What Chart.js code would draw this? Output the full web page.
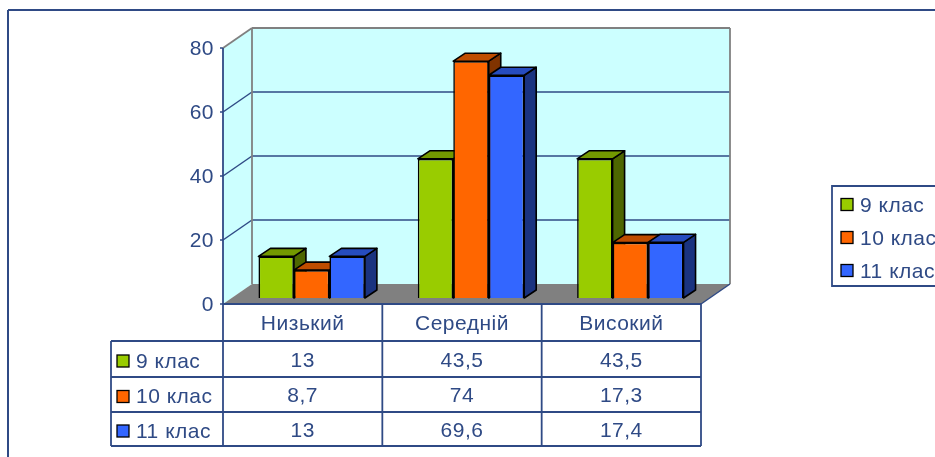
<!DOCTYPE html>
<html>
<head>
<meta charset="utf-8">
<style>
    html, body { margin: 0; padding: 0; background: #fff; overflow: hidden; }
    canvas { display: block; }
</style>
<script src="https://cdn.jsdelivr.net/npm/chart.js@4/dist/chart.umd.min.js"></script>
</head>
<body>
<canvas id="chart" width="935" height="457"></canvas>
<script>
const categories = ["Низький", "Середній", "Високий"];
const seriesNames = ["9 клас", "10 клас", "11 клас"];
const grade9 = [13, 43.5, 43.5];
const grade10 = [8.7, 74, 17.3];
const grade11 = [13, 69.6, 17.4];
const grade9Text = ["13", "43,5", "43,5"];
const grade10Text = ["8,7", "74", "17,3"];
const grade11Text = ["13", "69,6", "17,4"];
const yTicks = [0, 20, 40, 60, 80];

const ink = "#2F4A85";
const fronts = ["#99CC00", "#FF6600", "#3366FF"];
const tops = ["#739900", "#BF4D00", "#264CBF"];
const sides = ["#4D6600", "#803300", "#1A3380"];

// offset of the bars' plane from the front of the floor, and depth of walls / bars
const planeDx = 9, planeDy = 6;
const wallDx = 29, wallDy = 20;
const barDx = 12, barDy = 8;

function poly(ctx, pts, fill, stroke, lw) {
    ctx.beginPath();
    pts.forEach((p, i) => i ? ctx.lineTo(p[0], p[1]) : ctx.moveTo(p[0], p[1]));
    ctx.closePath();
    if (fill) { ctx.fillStyle = fill; ctx.fill(); }
    if (stroke) { ctx.strokeStyle = stroke; ctx.lineWidth = lw; ctx.stroke(); }
}

function line(ctx, x1, y1, x2, y2, color, lw) {
    ctx.beginPath();
    ctx.moveTo(x1, y1);
    ctx.lineTo(x2, y2);
    ctx.strokeStyle = color;
    ctx.lineWidth = lw;
    ctx.stroke();
}

function key(ctx, x, y, color) {
    ctx.fillStyle = color;
    ctx.fillRect(x, y, 12, 12);
    ctx.strokeStyle = "#000";
    ctx.lineWidth = 1.3;
    ctx.strokeRect(x, y, 12, 12);
}

const wallsPlugin = {
    id: "walls",
    // the reference text runs wider than Liberation Sans, so open it up a little
    beforeDraw(chart) {
        chart.ctx.letterSpacing = "0.5px";
    },
    // walls, floor, gridlines and the outer frame
    beforeDatasetsDraw(chart) {
        const ctx = chart.ctx, y = chart.scales.y, x = chart.scales.x;
        const left = x.left - planeDx, right = x.right - planeDx;
        const y0 = y.getPixelForValue(0) + planeDy, yTop = y.getPixelForValue(80) + planeDy;
        ctx.save();
        line(ctx, 8, 10, 935, 10, ink, 2);
        line(ctx, 8, 10, 8, 457, ink, 2);
        poly(ctx, [[left + wallDx, yTop - wallDy], [right + wallDx, yTop - wallDy], [right + wallDx, y0 - wallDy], [left + wallDx, y0 - wallDy]], "#CCFFFF");
        poly(ctx, [[left, yTop], [left + wallDx, yTop - wallDy], [left + wallDx, y0 - wallDy], [left, y0]], "#CCFFFF");
        poly(ctx, [[left, y0], [left + wallDx, y0 - wallDy], [right + wallDx, y0 - wallDy], [right, y0]], "#808080");
        yTicks.forEach(v => {
            const py = y.getPixelForValue(v) + planeDy;
            if (v > 0 && v < 80) {
                line(ctx, left, py, left + wallDx, py - wallDy, ink, 1.5);
                line(ctx, left + wallDx, py - wallDy, right + wallDx, py - wallDy, ink, 1.5);
            }
            line(ctx, left - 3, py, left, py, ink, 1.5);
        });
        line(ctx, left, yTop, left + wallDx, yTop - wallDy, "#808080", 1.8);
        line(ctx, left + wallDx, yTop - wallDy, right + wallDx, yTop - wallDy, "#808080", 1.8);
        line(ctx, left + wallDx, yTop - wallDy, left + wallDx, y0 - wallDy, "#808080", 1.8);
        line(ctx, right + wallDx, yTop - wallDy, right + wallDx, y0 - wallDy, "#808080", 1.8);
        line(ctx, left, yTop, left, y0, ink, 1.8);
        line(ctx, right, y0, right + wallDx, y0 - wallDy, ink, 1.5);
        ctx.restore();
    },
    // chart.js paints the last dataset first; the boxes must go left to right
    beforeDatasetDraw() {
        return false;
    },
    afterDatasetsDraw(chart) {
        const ctx = chart.ctx;
        [0, 1, 2].forEach(i => {
            const meta = chart.getDatasetMeta(i);
            ctx.save();
            ctx.lineJoin = "round";
            meta.data.forEach(bar => {
                const l = bar.x - bar.width / 2, r = bar.x + bar.width / 2;
                poly(ctx, [[r, bar.y], [r + barDx, bar.y - barDy], [r + barDx, bar.base - barDy], [r, bar.base]], sides[i], "#000", 1.6);
                poly(ctx, [[l, bar.y], [l + barDx, bar.y - barDy], [r + barDx, bar.y - barDy], [r, bar.y]], tops[i], "#000", 1.6);
            });
            ctx.restore();
            meta.controller.draw();
        });
    },
    // data table and legend
    afterDraw(chart) {
        const ctx = chart.ctx, x = chart.scales.x;
        const left = x.left - planeDx, right = x.right - planeDx;
        const step = (right - left) / categories.length;
        const rows = [304, 341, 377, 412, 446];
        const tableLeft = 111;
        const rowText = [grade9Text, grade10Text, grade11Text];
        ctx.save();
        ctx.font = "21px 'Liberation Sans', Arial, sans-serif";
        ctx.textBaseline = "middle";
        rows.forEach((ry, i) => line(ctx, i === 0 ? left : tableLeft, ry, right, ry, ink, 1.8));
        for (let c = 0; c <= categories.length; c++) {
            line(ctx, left + step * c, rows[0], left + step * c, rows[4], ink, 1.8);
        }
        line(ctx, tableLeft, rows[1], tableLeft, rows[4], ink, 1.8);
        rowText.forEach((vals, r) => {
            const cy = (rows[r + 1] + rows[r + 2]) / 2;
            key(ctx, 117, cy + 2 - 6, fronts[r]);
            ctx.fillStyle = ink;
            ctx.textAlign = "left";
            ctx.fillText(seriesNames[r], 136, cy + 3);
            ctx.textAlign = "center";
            vals.forEach((t, c) => ctx.fillText(t, left + step * (c + 0.5), cy + 2));
        });
        // legend box runs off the right edge of the picture
        ctx.strokeStyle = ink;
        ctx.lineWidth = 1.8;
        ctx.beginPath();
        ctx.moveTo(940, 186);
        ctx.lineTo(832, 186);
        ctx.lineTo(832, 286);
        ctx.lineTo(940, 286);
        ctx.stroke();
        ctx.textAlign = "left";
        seriesNames.forEach((name, r) => {
            const cy = 205 + r * 33;
            key(ctx, 841, cy - 6.5, fronts[r]);
            ctx.fillStyle = ink;
            ctx.fillText(name, 860, cy + 1);
        });
        ctx.restore();
    }
};

new Chart(document.getElementById("chart"), {
    type: "bar",
    data: {
        labels: categories,
        datasets: [grade9, grade10, grade11].map((values, i) => ({
            label: seriesNames[i],
            data: values,
            backgroundColor: fronts[i],
            borderColor: "#000",
            borderWidth: 1.6,
            barPercentage: 1,
            categoryPercentage: 0.668
        }))
    },
    options: {
        responsive: false,
        animation: false,
        layout: { padding: { left: 0, top: 42, right: 225, bottom: 119 } },
        plugins: { legend: { display: false }, tooltip: { enabled: false } },
        scales: {
            x: {
                grid: { display: false, drawTicks: false },
                border: { display: false },
                afterFit: scale => { scale.height = 40; },
                ticks: {
                    color: ink,
                    padding: 14,
                    labelOffset: -planeDx,
                    maxRotation: 0,
                    font: { family: "'Liberation Sans', Arial, sans-serif", size: 21 }
                }
            },
            y: {
                min: 0,
                max: 80,
                grid: { display: false, drawTicks: false },
                border: { display: false },
                afterFit: scale => { scale.width = 232; },
                ticks: {
                    color: ink,
                    stepSize: 20,
                    padding: 18,
                    labelOffset: planeDy + 1,
                    font: { family: "'Liberation Sans', Arial, sans-serif", size: 21 }
                }
            }
        }
    },
    plugins: [wallsPlugin]
});
</script>
</body>
</html>
